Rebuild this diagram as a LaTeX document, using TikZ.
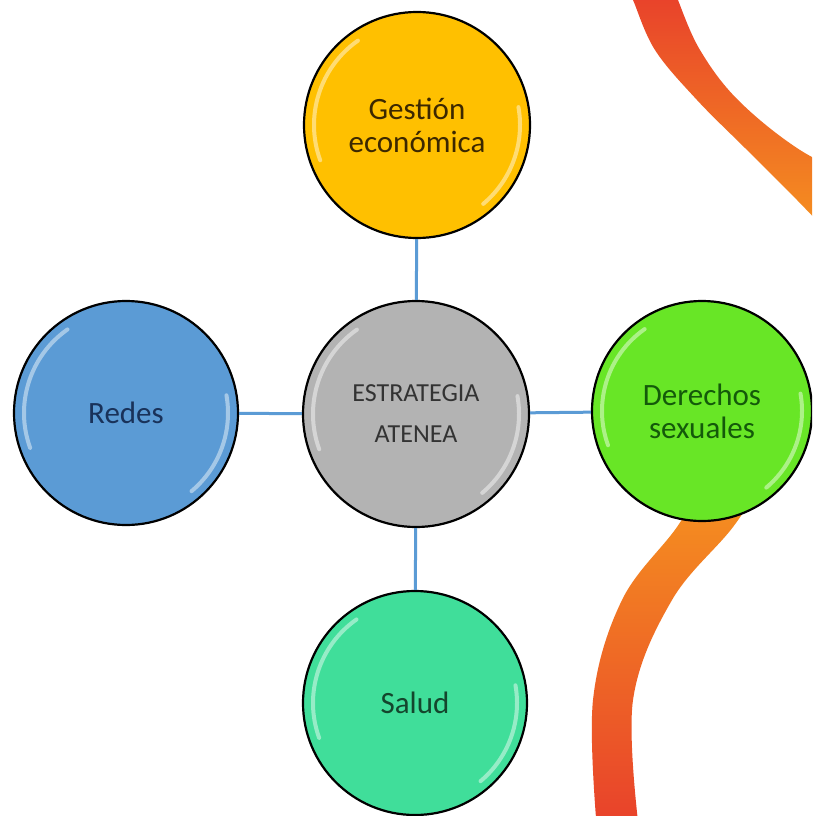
\documentclass[tikz,border=0pt]{standalone}
\usepackage{fontspec}
\setmainfont{Carlito}
\usetikzlibrary{calc}
\definecolor{cgold}{HTML}{FFC000}
\definecolor{cgray}{HTML}{B3B3B3}
\definecolor{cblue}{HTML}{5B9BD5}
\definecolor{cgreen}{HTML}{68E626}
\definecolor{cteal}{HTML}{40DE9A}
\definecolor{cline}{HTML}{5B9BD5}
\definecolor{wred}{HTML}{E8402B}
\definecolor{worange}{HTML}{F6961F}
\tikzset{
  ball/.style={circle, draw=black, line width=2.2pt, minimum size=224pt, inner sep=0pt, align=center,
     font=\fontsize{31}{33}\selectfont},
  link/.style={draw=cline, line width=3pt},
  hl/.style={draw=white, line width=4pt, opacity=0.45, line cap=round},
}
\newcommand\glossy[2]{%
  \draw[hl] (#1.center) ++(200:#2pt) arc[start angle=200,end angle=125,radius=#2pt];
  \draw[hl] (#1.center) ++(-50:#2pt) arc[start angle=-50,end angle=10,radius=#2pt];
}
\begin{document}
\begin{tikzpicture}[x=1pt,y=1pt]
\useasboundingbox (0,0) rectangle (812,-816);
\clip (0,0) rectangle (812,-816);
\fill[white] (0,0) rectangle (812,-816);
% orange waves
\shade[top color=wred, bottom color=worange]
  plot[smooth, tension=0.6] coordinates {(628,10) (633,0) (655,-50) (697,-100) (747,-150) (797,-200) (840,-245)}
  -- plot[smooth, tension=0.6] coordinates {(870,-185) (800,-150) (738,-100) (700,-50) (678,0) (676,10)}
  -- cycle;
\shade[top color=worange, bottom color=wred]
  plot[smooth, tension=0.6] coordinates {(712,-470) (677,-527) (622,-600) (593,-700) (597,-830)}
  -- plot[smooth, tension=0.6] coordinates {(639,-830) (633,-700) (672,-600) (733,-527) (770,-470)}
  -- cycle;
% nodes
\node[ball, fill=cgray, minimum size=226pt, font=\fontsize{26}{41}\selectfont, text=black!80] (c) at (416,-414) {ESTRATEGIA\\ATENEA};
\node[ball, fill=cgold, minimum size=226pt, text={rgb,255:red,60;green,40;blue,0}] (t) at (417,-125) {Gestión\\económica};
\node[ball, fill=cblue, text={rgb,255:red,25;green,50;blue,90}] (l) at (126,-413) {Redes};
\node[ball, fill=cgreen, minimum size=220pt, text={rgb,255:red,20;green,90;blue,10}] (r) at (702,-411) {Derechos\\sexuales};
\node[ball, fill=cteal, text={rgb,255:red,20;green,70;blue,45}] (b) at (415,-703) {Salud};
% connectors
\draw[link] (t) -- (c);
\draw[link] (l) -- (c);
\draw[link] (c) -- (r);
\draw[link] (c) -- (b);
% highlights
\glossy{c}{103}
\glossy{t}{103}
\glossy{l}{102}
\glossy{r}{100}
\glossy{b}{102}
\end{tikzpicture}
\end{document}
